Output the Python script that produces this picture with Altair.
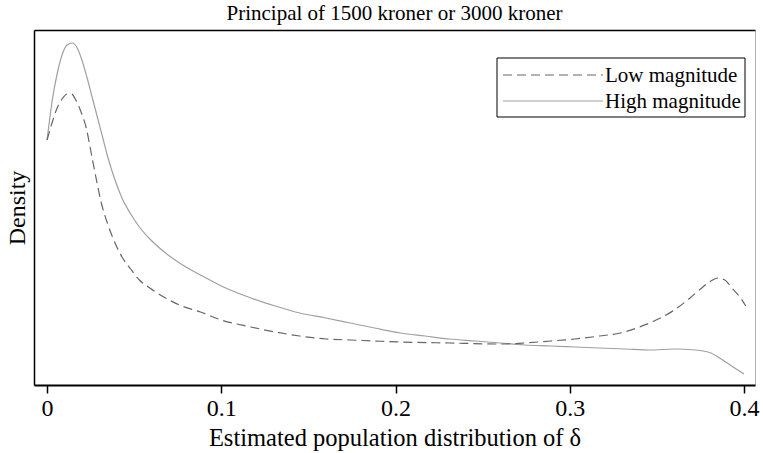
import altair as alt
import pandas as pd

title_text = "Principal of 1500 kroner or 3000 kroner"
x_title = "Estimated population distribution of δ"
y_title = "Density"
series_names = ["Low magnitude", "High magnitude"]
x_ticks = [0, 0.1, 0.2, 0.3, 0.4]

high_x = [0, 0.003, 0.006, 0.009, 0.0115, 0.0145, 0.017, 0.020, 0.023, 0.026,
          0.029, 0.032, 0.035, 0.039, 0.043, 0.048, 0.053, 0.059, 0.068, 0.076,
          0.088, 0.100, 0.117, 0.131, 0.145, 0.160, 0.174, 0.188, 0.203, 0.217,
          0.231, 0.246, 0.260, 0.274, 0.289, 0.303, 0.317, 0.332, 0.346, 0.360,
          0.372, 0.381, 0.386, 0.392, 0.400]
high_y = [24.5, 28.5, 31.3, 33.2, 34.0, 34.2, 33.8, 32.5, 30.7, 28.7,
          26.7, 24.7, 22.7, 20.5, 18.7, 17.1, 15.8, 14.6, 13.2, 12.2,
          11.0, 9.9, 8.7, 7.9, 7.2, 6.7, 6.2, 5.7, 5.2, 4.9,
          4.6, 4.4, 4.2, 4.0, 3.9, 3.8, 3.7, 3.6, 3.5, 3.6,
          3.5, 3.2, 2.7, 2.0, 1.1]

low_x = [0, 0.003, 0.006, 0.009, 0.0115, 0.014, 0.0165, 0.0195, 0.0225, 0.025,
         0.028, 0.031, 0.035, 0.039, 0.043, 0.048, 0.053, 0.059, 0.068, 0.076,
         0.088, 0.100, 0.117, 0.131, 0.145, 0.160, 0.174, 0.188, 0.203, 0.231,
         0.260, 0.274, 0.289, 0.303, 0.317, 0.329, 0.340, 0.352, 0.360, 0.369,
         0.375, 0.381, 0.385, 0.389, 0.393, 0.398, 0.401]
low_y = [24.5, 26.3, 27.8, 28.7, 29.1, 29.1, 28.5, 27.3, 25.7, 23.5,
         20.8, 18.3, 16.0, 14.2, 12.8, 11.6, 10.5, 9.7, 8.7, 8.0,
         7.3, 6.5, 5.8, 5.3, 4.9, 4.6, 4.5, 4.4, 4.3, 4.2,
         4.1, 4.2, 4.4, 4.6, 4.9, 5.2, 5.8, 6.7, 7.5, 8.7,
         9.6, 10.4, 10.7, 10.5, 9.7, 8.7, 7.9]

FONT = "Liberation Serif"
W, H = 721, 355
LOW_COLOR = "#666666"
HIGH_COLOR = "#a0a0a0"
DASH = [9, 5]

low_df = pd.DataFrame({"x": low_x, "density": low_y, "series": series_names[0]})
high_df = pd.DataFrame({"x": high_x, "density": high_y, "series": series_names[1]})
leg_df = pd.DataFrame({"label": series_names})

xs = alt.Scale(domain=[-0.0075, 0.4063], nice=False, zero=False)
ys = alt.Scale(domain=[0, 35.5], nice=False, zero=False)

x_axis = alt.Axis(
    values=x_ticks,
    labelExpr="datum.value == 0 ? '0' : format(datum.value, '.1f')",
    grid=False, tickSize=8, tickWidth=1.5, tickColor="black",
    domainColor="black", domainWidth=2,
    labelFont=FONT, labelFontSize=24, labelColor="black", labelPadding=3,
    title=x_title, titleFont=FONT, titleFontSize=24.5, titleFontWeight="normal",
    titleColor="black", titlePadding=6,
)
y_axis = alt.Axis(
    labels=False, ticks=False, grid=False,
    domainColor="black", domainWidth=1.5,
    title=y_title, titleFont=FONT, titleFontSize=24, titleFontWeight="normal",
    titleColor="black", titlePadding=5,
)
top_axis = alt.Axis(
    orient="top", labels=False, ticks=False, grid=False, title=None,
    domainColor="black", domainWidth=1.5,
)

high = alt.Chart(high_df).mark_line(
    color=HIGH_COLOR, strokeWidth=1.2, interpolate="monotone"
).encode(
    x=alt.X("x:Q", scale=xs, axis=x_axis),
    y=alt.Y("density:Q", scale=ys, axis=y_axis),
)
low = alt.Chart(low_df).mark_line(
    color=LOW_COLOR, strokeWidth=1.2, strokeDash=DASH, interpolate="monotone"
).encode(
    x=alt.X("x:Q", scale=xs, axis=None),
    y=alt.Y("density:Q", scale=ys, axis=y_axis),
)
frame = alt.Chart(high_df).mark_line(opacity=0).encode(
    x=alt.X("x:Q", scale=xs, axis=top_axis),
    y=alt.Y("density:Q", scale=ys, axis=y_axis),
)

# hand-built legend box
LEG_FS = 21
box = alt.Chart(leg_df.iloc[:1]).mark_rect(fill="white", stroke="black", strokeWidth=1).encode(
    x=alt.value(463), x2=alt.value(711), y=alt.value(28), y2=alt.value(87)
)
low_sym = alt.Chart(leg_df.iloc[:1]).mark_rule(color=LOW_COLOR, strokeWidth=1.2, strokeDash=DASH).encode(
    x=alt.value(469), x2=alt.value(569), y=alt.value(45)
)
high_sym = alt.Chart(leg_df.iloc[1:]).mark_rule(color=HIGH_COLOR, strokeWidth=1.2).encode(
    x=alt.value(469), x2=alt.value(569), y=alt.value(71)
)
low_txt = alt.Chart(leg_df.iloc[:1]).mark_text(
    align="left", baseline="alphabetic", font=FONT, fontSize=LEG_FS, color="black"
).encode(x=alt.value(571), y=alt.value(52), text="label:N")
high_txt = alt.Chart(leg_df.iloc[1:]).mark_text(
    align="left", baseline="alphabetic", font=FONT, fontSize=LEG_FS, color="black"
).encode(x=alt.value(571), y=alt.value(78), text="label:N")

chart = alt.layer(high, low, frame, box, low_sym, high_sym, low_txt, high_txt).resolve_axis(
    x="independent"
).properties(
    width=W, height=H,
    title=alt.TitleParams(text=title_text, font=FONT, fontSize=21, fontWeight="normal",
                          color="black", offset=6, anchor="middle"),
    autosize=alt.AutoSizeParams(type="none"),
    padding={"left": 34, "top": 30, "right": 8, "bottom": 68},
    background="white",
).configure_view(stroke="#b0b0b0", strokeWidth=1)

chart.save("out.html", embed_options={"renderer": "svg", "actions": False})
